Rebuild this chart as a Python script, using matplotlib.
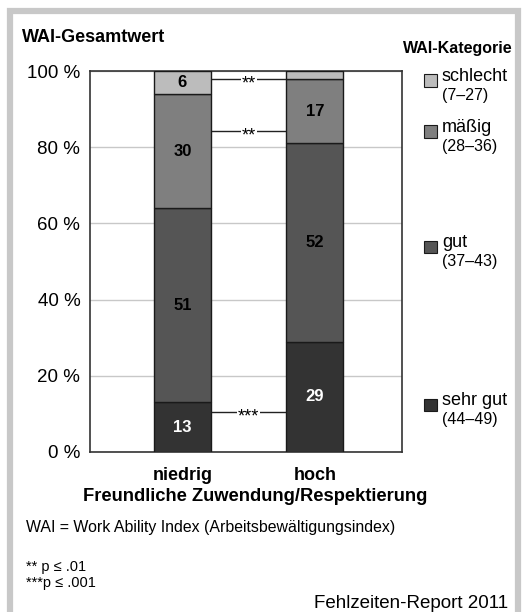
"""
WAI-Gesamtwert nach freundlicher Zuwendung/Respektierung (Fehlzeiten-Report 2011).
Stacked 100 % bars, grey scale, significance markers between the bars.
"""

import numpy as np
import matplotlib
matplotlib.use("Agg")
import matplotlib.pyplot as plt
from matplotlib.patches import Rectangle

plt.rcParams["font.family"] = ["Liberation Sans", "DejaVu Sans"]

# data
groups = ["niedrig", "hoch"]
categories = ["sehr gut", "gut", "mäßig", "schlecht"]
ranges = ["(44–49)", "(37–43)", "(28–36)", "(7–27)"]
sehr_gut = [13, 29]
gut = [51, 52]
maessig = [30, 17]
schlecht = [6, 2]
show_label = [[True, True], [True, True], [True, True], [True, False]]
signif = ["***", None, "**", "**"]

COLORS = ["#333333", "#555555", "#7f7f7f", "#bcbcbc"]
TEXT_COLORS = ["white", "black", "black", "black"]
LEGEND_Y = [12.3, 53.8, 84.0, 97.5]  # legend rows, in % of the y axis
EDGE = "#1a1a1a"

W, H = 522, 612
fig = plt.figure(figsize=(W / 100, H / 100), dpi=100)
ax = fig.add_axes([90 / W, 160 / H, 312 / W, 381 / H])


def ftext(x_px, y_px, s, **kw):
    # place text on the figure with pixel coords measured from the top left
    fig.text(x_px / W, 1 - y_px / H, s, va="baseline", **kw)


x = np.arange(len(groups))
width = 0.43
series = [sehr_gut, gut, maessig, schlecht]
bottom = np.zeros(len(groups))
centers = []
for k, vals in enumerate(series):
    vals = np.array(vals, dtype=float)
    ax.bar(x, vals, width, bottom=bottom, color=COLORS[k], edgecolor=EDGE,
           linewidth=1.0, zorder=3)
    mid = bottom + vals / 2
    centers.append(mid)
    for i in range(len(groups)):
        if show_label[k][i]:
            ax.text(x[i], mid[i], f"{int(vals[i])}", ha="center", va="center",
                    fontsize=12, fontweight="bold", color=TEXT_COLORS[k], zorder=4)
    bottom = bottom + vals

# significance lines between the bars (asterisks sit high in the font, so nudge down)
for k, sig in enumerate(signif):
    if sig is None:
        continue
    y = centers[k].mean()
    ax.plot([x[0] + width / 2, x[1] - width / 2], [y, y], color="#222222",
            lw=1.0, zorder=2)
    ax.text((x[0] + x[1]) / 2, y - 1.3, sig, ha="center", va="center", fontsize=13,
            zorder=3, bbox=dict(boxstyle="square,pad=0.05", fc="white", ec="none"))

ax.set_xlim(-0.698, 1.657)
ax.set_ylim(0, 100)
ax.set_yticks(range(0, 101, 20))
ax.set_yticklabels([f"{v} %" for v in range(0, 101, 20)], fontsize=13.5)
ax.tick_params(axis="y", length=0, pad=7)
ax.set_xticks(x)
ax.set_xticklabels(groups, fontsize=13, fontweight="bold")
ax.tick_params(axis="x", length=0, pad=11)
ax.grid(axis="y", color="#c8c8c8", lw=1.0, zorder=0)
ax.set_axisbelow(True)
for s in ax.spines.values():
    s.set_color("#333333")
    s.set_linewidth(1.2)

# legend, drawn by hand to the right of the plot
for k in range(len(categories)):
    y = LEGEND_Y[k]
    ax.add_patch(Rectangle((1.82, y - 1.6), 0.098, 3.3, transform=ax.transData,
                           facecolor=COLORS[k], edgecolor=EDGE, lw=0.8,
                           clip_on=False))
    ax.text(1.958, y, categories[k], ha="left", va="baseline", fontsize=13,
            clip_on=False)
    ax.text(1.958, y - 5.0, ranges[k], ha="left", va="baseline", fontsize=11.5,
            clip_on=False)

ftext(22, 42, "WAI-Gesamtwert", fontsize=13, fontweight="bold", ha="left")
ftext(513, 53, "WAI-Kategorie", fontsize=11.5, fontweight="bold", ha="right")
ftext(255, 501, "Freundliche Zuwendung/Respektierung", fontsize=13.2,
      fontweight="bold", ha="center")
ftext(26, 532, "WAI = Work Ability Index (Arbeitsbewältigungsindex)",
      fontsize=11.4, ha="left")
ftext(26, 571, "** p ≤ .01", fontsize=10.5, ha="left")
ftext(26, 587, "***p ≤ .001", fontsize=10.5, ha="left")
ftext(508, 608, "Fehlzeiten-Report 2011", fontsize=13.5, ha="right")

# grey frame around the figure (open at the bottom)
fig.patches.append(Rectangle((10 / W, -0.05), 508 / W, 1.05 - 11 / H,
                             transform=fig.transFigure, fill=False,
                             edgecolor="#c8c8c8", lw=4.5, zorder=0))

fig.savefig("out.png", dpi=100)
plt.close(fig)
